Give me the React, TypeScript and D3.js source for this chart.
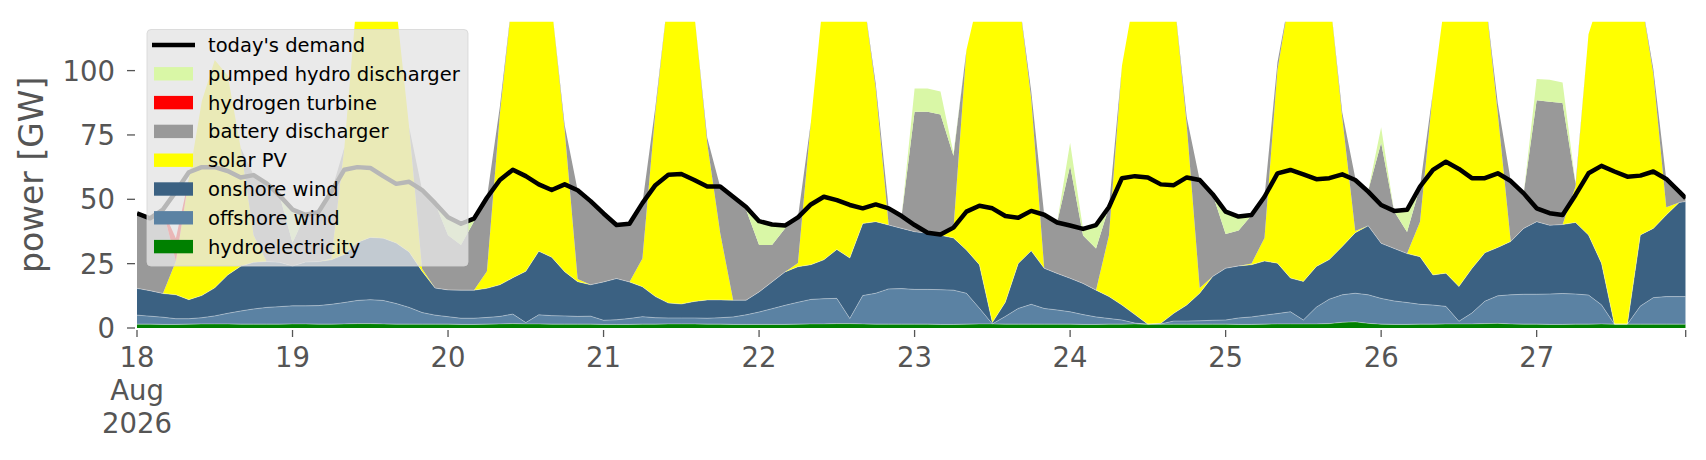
import React, { useEffect, useRef } from 'react';
import * as d3 from 'd3';

// two-hourly readings from 18 Aug 00:00, last point at 27 Aug 23:00
const hours = [...d3.range(0, 240, 2), 239];
const dayTicks = d3.range(0, 240, 24);
const dayLabels = ['18', '19', '20', '21', '22', '23', '24', '25', '26', '27'];
const yTicks = [0, 25, 50, 75, 100];

const hydro = [
  1.5, 1.5, 1.4, 1.4, 1.5, 1.6, 1.6, 1.6, 1.5, 1.5, 1.5, 1.5,
  1.6, 1.6, 1.5, 1.5, 1.6, 1.7, 1.7, 1.6, 1.5, 1.5, 1.5, 1.5,
  1.5, 1.4, 1.4, 1.5, 1.6, 1.7, 1.6, 1.6, 1.5, 1.5, 1.5, 1.5,
  1.4, 1.4, 1.4, 1.5, 1.5, 1.6, 1.6, 1.6, 1.5, 1.5, 1.4, 1.4,
  1.4, 1.4, 1.4, 1.5, 1.6, 1.6, 1.7, 1.7, 1.6, 1.5, 1.5, 1.5,
  1.5, 1.5, 1.4, 1.4, 1.5, 1.6, 1.6, 1.5, 1.5, 1.5, 1.5, 1.5,
  1.5, 1.4, 1.4, 1.5, 1.5, 1.6, 1.5, 1.5, 1.5, 1.5, 1.5, 1.5,
  1.5, 1.4, 1.4, 1.5, 1.6, 1.6, 1.6, 1.6, 1.7, 2.2, 2.4, 1.8,
  1.5, 1.4, 1.4, 1.5, 1.5, 1.6, 1.6, 1.6, 1.7, 1.8, 1.6, 1.5,
  1.5, 1.4, 1.4, 1.5, 1.5, 1.6, 1.5, 1.5, 1.5, 1.5, 1.5, 1.5, 1.5,
];

const offshore = [
  3.5, 3.1, 2.8, 2.2, 2.1, 2.4, 3.1, 4.1, 5.1, 5.9, 6.5, 6.8,
  7.0, 7.0, 7.2, 7.7, 8.3, 9.0, 9.3, 9.1, 8.0, 6.5, 4.5, 3.5,
  2.9, 2.4, 2.4, 2.6, 2.9, 3.7, 0.5, 3.5, 3.3, 3.2, 3.0, 3.1,
  1.6, 1.8, 2.3, 2.9, 2.5, 2.3, 2.3, 2.3, 2.3, 2.5, 2.9, 3.7,
  4.8, 6.1, 7.4, 8.5, 9.5, 9.8, 9.8, 2.0, 11.0, 12.0, 13.7, 13.8,
  13.5, 13.5, 13.5, 13.3, 12.0, 6.1, 0, 3.0, 6.1, 7.7, 6.1, 5.5,
  4.8, 3.8, 2.9, 2.2, 1.6, 0.3, 0, 0.1, 1.2, 1.2, 1.3, 1.5,
  1.6, 2.5, 2.9, 3.5, 4.0, 4.7, 1.5, 6.5, 9.5, 10.7, 11.1, 11.1,
  10.0, 9.1, 8.5, 7.7, 7.4, 6.8, 1.0, 4.2, 8.7, 10.7, 11.3, 11.6,
  11.6, 11.8, 12.0, 11.7, 11.3, 7.4, 0, 0, 7.0, 10.3, 10.7, 10.7, 10.7,
];

const onshore = [
  10.4, 9.9, 9.2, 9.3, 7.4, 8.6, 10.9, 14.9, 17.4, 18.1, 17.8, 17.2,
  15.5, 17.0, 17.1, 17.3, 18.7, 22.5, 24.2, 24.2, 23.5, 21.5, 16.0, 10.5,
  10.4, 10.9, 10.9, 11.3, 12.3, 14.1, 19.9, 24.7, 22.7, 17.2, 13.5, 12.2,
  14.9, 16.0, 14.2, 11.6, 8.2, 5.8, 5.4, 6.4, 7.1, 6.9, 6.5, 5.7,
  7.8, 10.4, 13.0, 13.8, 13.5, 15.1, 19.0, 23.5, 28.0, 27.8, 24.8, 23.4,
  22.4, 21.8, 21.1, 20.3, 16.8, 16.9, 0.5, 5.5, 17.5, 20.8, 15.6, 14.2,
  13.0, 12.1, 10.4, 8.5, 5.8, 3.3, 0, 0.2, 3.0, 6.2, 10.7, 17.0,
  20.1, 20.2, 20.3, 21.0, 19.6, 13.1, 15.0, 15.8, 15.4, 18.8, 23.5, 26.8,
  21.4, 20.4, 19.0, 18.5, 11.7, 12.9, 13.5, 17.3, 18.8, 18.8, 20.7, 25.6,
  28.2, 26.7, 26.8, 27.8, 23.3, 16.2, 0, 0, 27.6, 26.9, 31.7, 36.6, 36.9,
];

const solar = [
  0, 0, 0, 13, 47, 75.5, 88.5, 77.5, 46, 10.5, 0, 0,
  0, 0, 0, 0.5, 41.5, 97, 100, 100, 92, 48.5, 1, 0,
  0, 0, 0, 6.6, 66.3, 110.7, 113, 105, 97.5, 55, 1, 0,
  0, 0, 0, 11, 71.8, 120, 123, 112, 61, 26, 0, 0,
  0, 0, 0, 1.5, 55.5, 104, 100, 103, 90, 51.7, 0, 0,
  0, 0, 0, 3.6, 77.7, 105, 128, 120, 105, 59, 0, 0,
  0, 0, 0, 23.8, 93, 125, 128, 128, 124, 70, 2, 0,
  0, 0, 0.5, 9, 75, 111, 112, 106, 104, 50, 0.7, 0,
  0, 0, 0, 13.6, 71.4, 109, 114, 107, 101, 52, 0, 0,
  0, 0, 0, 14, 78, 105, 128, 128, 94, 60, 3, 0, 0,
];

const battery = [
  29.1, 28.1, 32.5, 0, 0, 0, 0, 0, 0, 23.4, 30.4, 26,
  9, 18.5, 19.2, 26, 0, 0, 0, 0, 0, 0, 30.6, 33,
  21.2, 17.5, 26.7, 28.6, 3, 0, 0, 0, 0, 2, 34.5, 32.5,
  26.5, 20.7, 22.5, 21.5, 2, 0, 0, 0, 2, 18, 40.1, 35.1,
  18.2, 14.3, 16.9, 17.7, 0, 0, 0, 0, 0, 2, 6.5, 4.8,
  46.6, 47.2, 46.9, 28.3, 0, 0, 0, 0, 0, 3, 20.8, 19.8,
  43.7, 18.6, 16.2, 11, 0, 0, 0, 0, 0, 3, 42, 32,
  13.3, 13.8, 18.7, 16, 3, 0, 0, 0, 0, 2, 20.7, 13.6,
  39.1, 14.5, 8.4, 13.6, 0, 0, 0, 0, 0, 4, 23.6, 13.6,
  47.2, 48, 47.2, 1, 0, 0, 0, 0, 0, 2, 10.9, 4.2, 1.3,
];

const hydrogen = [
  0, 0, 0, 9, 0, 0, 0, 0, 0, 0, 0, 0,
  0, 0, 0, 0, 0, 0, 0, 0, 0, 0, 0, 0,
  0, 0, 0, 0, 0, 0, 0, 0, 0, 0, 0, 0,
  0, 0, 0, 0, 0, 0, 0, 0, 0, 0, 0, 0,
  0, 0, 0, 0, 0, 0, 0, 0, 0, 0, 0, 0,
  0, 0, 0, 0, 0, 0, 0, 0, 0, 0, 0, 0,
  0, 0, 0, 0, 0, 0, 0, 0, 0, 0, 0, 0,
  0, 0, 0, 0, 0, 0, 0, 0, 0, 0, 0, 0,
  0, 0, 0, 0, 0, 0, 0, 0, 0, 0, 0, 0,
  0, 0, 0, 0, 0, 0, 0, 0, 0, 0, 0, 0, 0,
];

const pumped = [
  0, 0, 0, 0, 0, 0, 0, 0, 0, 0, 0, 0,
  13, 0, 0, 0, 0, 0, 0, 0, 0, 0, 0, 0,
  7, 8.2, 1, 0, 0, 0, 0, 0, 0, 0, 0, 0,
  0, 0, 0, 0, 0, 0, 0, 0, 0, 0, 0, 1,
  8.4, 7.9, 1, 0, 0, 0, 0, 0, 0, 0, 0, 0,
  9, 9, 9, 1, 0, 0, 0, 0, 0, 0, 0, 0,
  9, 2.5, 9, 0, 0, 0, 0, 0, 0, 0, 0, 0,
  8.7, 5.3, 0, 0, 0, 0, 0, 0, 0, 0, 0, 0,
  6, 0, 8.5, 0, 0, 0, 0, 0, 0, 0, 0, 0,
  8.2, 8.5, 8, 0, 0, 0, 0, 0, 0, 0, 0, 0, 0,
];

const demand = [
  44.5, 42.6, 46, 53, 60.5, 62.5, 62.5, 61, 58.5, 59.4, 56.2, 51.5,
  46, 44, 45, 53, 61.5, 62.5, 62.2, 59, 56, 56.8, 53.6, 48.5,
  43, 40.5, 42.5, 50.6, 57.5, 61.5, 59, 55.8, 53.6, 55.8, 53.5, 49.3,
  44.5, 40, 40.5, 48.5, 55.5, 59.5, 59.8, 57.5, 55, 55, 51, 47,
  41.5, 40.2, 39.8, 43, 48, 51, 49.7, 47.8, 46.5, 48, 46.5, 43.5,
  40, 37, 36.3, 39, 45.2, 47.5, 46.5, 43.5, 42.8, 45.5, 44, 41,
  39.8, 38.5, 40, 47, 58.2, 59, 58.5, 55.8, 55.5, 58.5, 57.5, 52,
  45.2, 43.3, 43.9, 51, 60.1, 61.4, 59.7, 57.8, 58.2, 59.7, 57.5, 53,
  47.8, 45.5, 45.9, 54.9, 61.4, 64.6, 61.8, 58.2, 58.2, 60.1, 57.1, 52.3,
  46.5, 44.6, 43.9, 51.7, 60.1, 63, 60.8, 58.8, 59.2, 60.8, 57.9, 53, 50.4,
];

// stacking order, bottom to top
const keys = ['hydro', 'offshore', 'onshore', 'solar', 'battery', 'hydrogen', 'pumped'];
const names = ['hydroelectricity', 'offshore wind', 'onshore wind', 'solar PV', 'battery discharger', 'hydrogen turbine', 'pumped hydro discharger'];
const colors = ['#008000', '#5b82a3', '#3b6182', '#ffff00', '#999999', '#ff0000', '#d9f7a6'];
const seriesData = [hydro, offshore, onshore, solar, battery, hydrogen, pumped];

const App = (): React.ReactElement => {
  const ref = useRef<SVGSVGElement>(null);

  useEffect(() => {
    document.body.style.margin = '0';
    if (!ref.current) return;
    const svg = d3.select(ref.current);
    svg.selectAll('*').remove();

    const font = 'DejaVu Sans, sans-serif';
    const grey = '#555555';
    const plot = { left: 137, right: 1685.7, top: 21.7, bottom: 328 };

    const x = d3.scaleLinear().domain([0, 239]).range([plot.left, plot.right]);
    const y = d3.scaleLinear().domain([0, 119]).range([plot.bottom, plot.top]);

    const rows = hours.map((t, i) => {
      const row: Record<string, number> = { t };
      keys.forEach((k, j) => {
        row[k] = seriesData[j][i];
      });
      return row;
    });

    const stacked = d3.stack<Record<string, number>>().keys(keys)(rows);

    svg
      .append('defs')
      .append('clipPath')
      .attr('id', 'plotclip')
      .append('rect')
      .attr('x', plot.left)
      .attr('y', plot.top)
      .attr('width', plot.right - plot.left)
      .attr('height', plot.bottom - plot.top);

    const g = svg.append('g').attr('clip-path', 'url(#plotclip)');

    const area = d3
      .area<d3.SeriesPoint<Record<string, number>>>()
      .x((d) => x(d.data.t))
      .y0((d) => y(d[0]))
      .y1((d) => y(d[1]));

    g.selectAll('path.layer')
      .data(stacked)
      .join('path')
      .attr('class', 'layer')
      .attr('fill', (d, i) => colors[i])
      .attr('d', area as any);

    // faint seams between layers
    const seam = d3
      .line<d3.SeriesPoint<Record<string, number>>>()
      .x((d) => x(d.data.t))
      .y((d) => y(d[1]));
    g.selectAll('path.seam')
      .data(stacked.slice(0, 3))
      .join('path')
      .attr('class', 'seam')
      .attr('fill', 'none')
      .attr('stroke', '#ffffff')
      .attr('stroke-opacity', 0.45)
      .attr('stroke-width', 0.8)
      .attr('d', seam as any);

    const demandLine = d3
      .line<number>()
      .x((d, i) => x(hours[i]))
      .y((d) => y(d));
    g.append('path')
      .datum(demand)
      .attr('fill', 'none')
      .attr('stroke', '#000000')
      .attr('stroke-width', 4.5)
      .attr('stroke-linejoin', 'round')
      .attr('d', demandLine);

    // y axis
    const yAxis = svg.append('g');
    yTicks.forEach((v) => {
      yAxis
        .append('line')
        .attr('x1', 127)
        .attr('x2', 135)
        .attr('y1', y(v))
        .attr('y2', y(v))
        .attr('stroke', grey)
        .attr('stroke-width', 1.3);
      yAxis
        .append('text')
        .attr('x', 115)
        .attr('y', y(v) + 10)
        .attr('text-anchor', 'end')
        .attr('font-family', font)
        .attr('font-size', 27.5)
        .attr('fill', grey)
        .text(v);
    });
    svg
      .append('text')
      .attr('transform', `translate(43,${(plot.top + plot.bottom) / 2}) rotate(-90)`)
      .attr('text-anchor', 'middle')
      .attr('font-family', font)
      .attr('font-size', 33)
      .attr('fill', grey)
      .text('power [GW]');

    // x axis
    const xAxis = svg.append('g');
    [...dayTicks, 239].forEach((t) => {
      xAxis
        .append('line')
        .attr('x1', x(t))
        .attr('x2', x(t))
        .attr('y1', 330)
        .attr('y2', 337)
        .attr('stroke', grey)
        .attr('stroke-width', 1.3);
    });
    dayTicks.forEach((t, i) => {
      const lines = i === 0 ? [dayLabels[i], 'Aug', '2026'] : [dayLabels[i]];
      lines.forEach((s, k) => {
        xAxis
          .append('text')
          .attr('x', x(t))
          .attr('y', 367 + k * 33)
          .attr('text-anchor', 'middle')
          .attr('font-family', font)
          .attr('font-size', 27.5)
          .attr('fill', grey)
          .text(s);
      });
    });

    // legend
    const legend = svg.append('g');
    legend
      .append('rect')
      .attr('x', 147)
      .attr('y', 29.5)
      .attr('width', 321)
      .attr('height', 236.5)
      .attr('rx', 4)
      .attr('fill', '#e5e5e5')
      .attr('fill-opacity', 0.8)
      .attr('stroke', '#d6d6d6')
      .attr('stroke-opacity', 0.8);

    const rowY = (i: number) => 45 + i * 28.8;
    legend
      .append('line')
      .attr('x1', 152)
      .attr('x2', 195)
      .attr('y1', rowY(0))
      .attr('y2', rowY(0))
      .attr('stroke', '#000000')
      .attr('stroke-width', 4.5);
    legend
      .append('text')
      .attr('x', 208)
      .attr('y', rowY(0) + 7)
      .attr('font-family', font)
      .attr('font-size', 19.5)
      .attr('fill', '#000000')
      .text("today's demand");

    const order = d3.range(keys.length).reverse();
    order.forEach((j, r) => {
      const yy = rowY(r + 1);
      legend
        .append('rect')
        .attr('x', 154)
        .attr('y', yy - 6.7)
        .attr('width', 39)
        .attr('height', 13.4)
        .attr('fill', colors[j]);
      legend
        .append('text')
        .attr('x', 208)
        .attr('y', yy + 7)
        .attr('font-family', font)
        .attr('font-size', 19.5)
        .attr('fill', '#000000')
        .text(names[j]);
    });
  }, []);

  return (
    <div style={{ width: 1706, height: 460 }}>
      <svg ref={ref} width={1706} height={460} style={{ display: 'block', background: '#ffffff' }} />
    </div>
  );
};

export default App;
